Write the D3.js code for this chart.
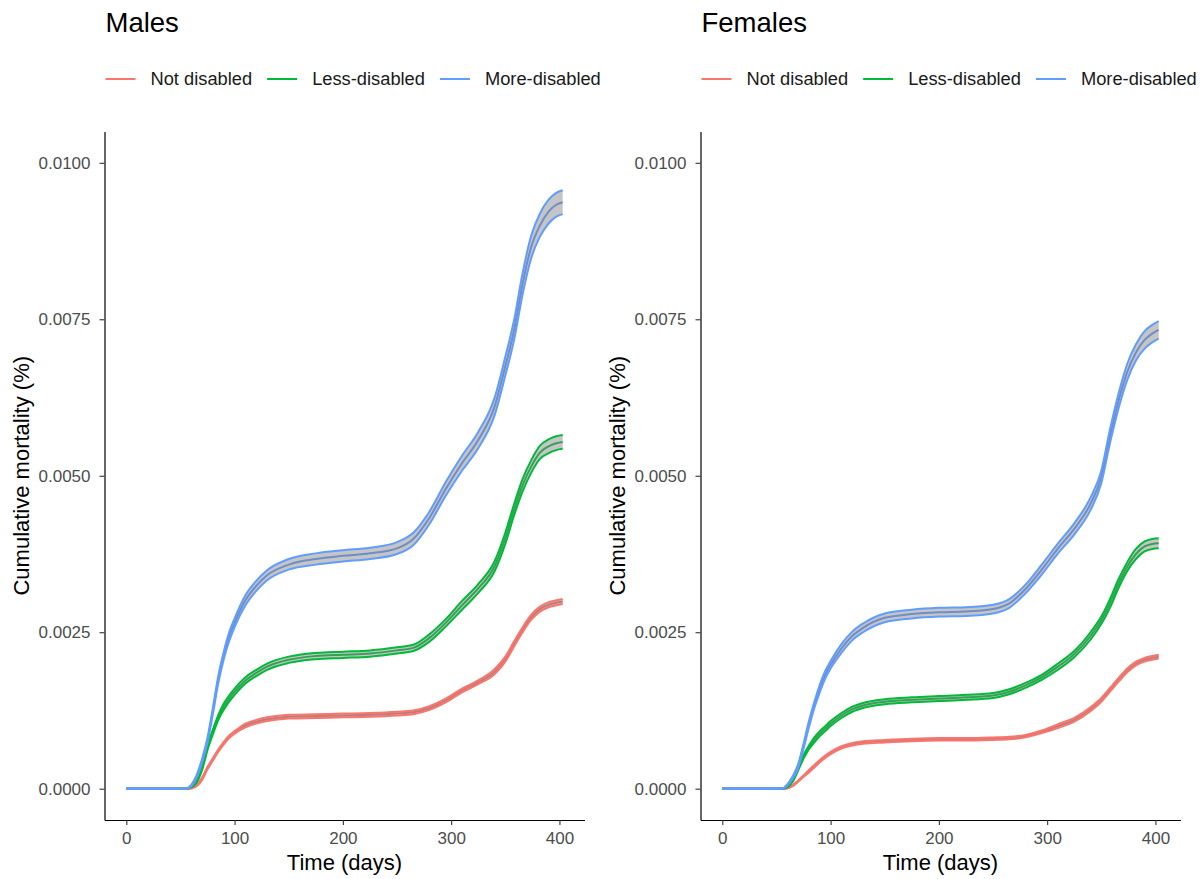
<!DOCTYPE html>
<html>
<head>
<meta charset="utf-8">
<script src="https://d3js.org/d3.v7.min.js"></script>
<style>
	body { margin: 0; background: #fff; }
	text { font-family: "Liberation Sans", Arial, Helvetica, sans-serif; }
</style>
</head>
<body>
<div id="chart"></div>
<script>

// categories and labels
var panelTitles = ["Males", "Females"];
var groups = ["Not disabled", "Less-disabled", "More-disabled"];
var xTicks = [0, 100, 200, 300, 400];
var yTicks = [0, 2.5, 5, 7.5, 10];   // in units of 0.001

// time points (days)
var days = [0, 55, 60, 65, 70, 75, 80, 85, 90, 95, 100, 110, 120, 130, 150, 175, 200, 225, 250, 265, 280, 295, 310, 325, 340, 350, 358, 366, 374, 382, 390, 397, 403];

// cumulative mortality, values x 0.001 (estimate, lower, upper)
var maleNotEst = [0,0,0.01,0.05,0.16,0.33,0.47,0.61,0.73,0.83,0.90,1.01,1.07,1.11,1.15,1.16,1.17,1.18,1.20,1.22,1.29,1.41,1.57,1.70,1.87,2.07,2.31,2.54,2.74,2.87,2.94,2.97,2.99];
var maleNotLo  = [0,0,0.005,0.04,0.14,0.31,0.45,0.59,0.71,0.81,0.88,0.98,1.04,1.08,1.12,1.13,1.14,1.15,1.17,1.19,1.26,1.38,1.54,1.67,1.83,2.03,2.27,2.50,2.70,2.83,2.90,2.93,2.95];
var maleNotHi  = [0,0,0.015,0.06,0.18,0.35,0.49,0.63,0.75,0.85,0.92,1.04,1.10,1.14,1.18,1.19,1.20,1.21,1.23,1.25,1.32,1.44,1.60,1.73,1.91,2.11,2.35,2.58,2.78,2.91,2.98,3.01,3.03];

var maleLessEst = [0,0,0.03,0.12,0.33,0.66,0.91,1.14,1.31,1.44,1.55,1.73,1.85,1.95,2.06,2.12,2.14,2.16,2.21,2.25,2.41,2.65,2.93,3.20,3.55,4.00,4.45,4.85,5.15,5.37,5.47,5.52,5.54];
var maleLessLo  = [0,0,0.02,0.10,0.30,0.62,0.87,1.10,1.26,1.39,1.50,1.68,1.80,1.90,2.01,2.07,2.09,2.11,2.16,2.20,2.35,2.59,2.86,3.13,3.47,3.91,4.36,4.75,5.05,5.27,5.36,5.41,5.43];
var maleLessHi  = [0,0,0.04,0.14,0.36,0.70,0.95,1.18,1.36,1.49,1.60,1.78,1.90,2.00,2.11,2.17,2.19,2.21,2.26,2.30,2.47,2.71,3.00,3.27,3.63,4.09,4.54,4.95,5.25,5.48,5.58,5.63,5.65];

var maleMoreEst = [0,0,0.05,0.20,0.45,0.78,1.25,1.75,2.13,2.43,2.65,3.01,3.24,3.41,3.58,3.67,3.72,3.76,3.84,3.99,4.33,4.79,5.20,5.57,6.10,6.75,7.32,8.07,8.66,9.00,9.22,9.33,9.37];
var maleMoreLo  = [0,0,0.04,0.18,0.42,0.74,1.20,1.69,2.07,2.36,2.58,2.93,3.16,3.33,3.50,3.58,3.63,3.67,3.75,3.89,4.23,4.68,5.08,5.44,5.96,6.60,7.16,7.90,8.48,8.82,9.03,9.14,9.18];
var maleMoreHi  = [0,0,0.06,0.22,0.48,0.82,1.30,1.81,2.19,2.50,2.72,3.09,3.32,3.49,3.67,3.76,3.81,3.85,3.94,4.09,4.43,4.90,5.32,5.70,6.24,6.90,7.48,8.24,8.84,9.19,9.41,9.52,9.56];

var femaleNotEst = [0,0,0.01,0.05,0.12,0.20,0.28,0.36,0.44,0.51,0.57,0.66,0.71,0.74,0.76,0.78,0.79,0.79,0.80,0.81,0.84,0.91,1.00,1.10,1.27,1.42,1.58,1.74,1.89,2.00,2.06,2.09,2.11];
var femaleNotLo  = [0,0,0.005,0.04,0.11,0.19,0.26,0.34,0.42,0.49,0.55,0.64,0.69,0.72,0.74,0.76,0.77,0.77,0.78,0.79,0.82,0.89,0.97,1.07,1.24,1.39,1.55,1.71,1.86,1.97,2.03,2.06,2.08];
var femaleNotHi  = [0,0,0.015,0.06,0.13,0.21,0.30,0.38,0.46,0.53,0.59,0.68,0.73,0.76,0.78,0.80,0.81,0.81,0.82,0.83,0.86,0.93,1.03,1.13,1.30,1.45,1.61,1.77,1.92,2.03,2.09,2.12,2.14];

var femaleLessEst = [0,0,0.03,0.13,0.32,0.51,0.66,0.78,0.88,0.96,1.04,1.17,1.27,1.33,1.39,1.42,1.44,1.46,1.49,1.55,1.65,1.78,1.95,2.15,2.44,2.69,2.96,3.28,3.55,3.75,3.87,3.91,3.92];
var femaleLessLo  = [0,0,0.02,0.11,0.29,0.48,0.63,0.74,0.84,0.92,1.00,1.13,1.23,1.29,1.35,1.38,1.40,1.42,1.45,1.51,1.61,1.74,1.90,2.10,2.38,2.63,2.89,3.21,3.48,3.67,3.79,3.83,3.84];
var femaleLessHi  = [0,0,0.04,0.15,0.35,0.54,0.69,0.82,0.92,1.00,1.08,1.21,1.31,1.37,1.43,1.46,1.48,1.50,1.53,1.59,1.69,1.82,2.00,2.20,2.50,2.75,3.03,3.35,3.62,3.83,3.95,3.99,4.00];

var femaleMoreEst = [0,0,0.06,0.18,0.36,0.68,1.03,1.34,1.60,1.82,1.98,2.24,2.44,2.57,2.73,2.79,2.82,2.83,2.87,2.96,3.19,3.50,3.84,4.15,4.55,4.98,5.63,6.20,6.66,6.97,7.17,7.27,7.33];
var femaleMoreLo  = [0,0,0.05,0.16,0.33,0.64,0.98,1.29,1.54,1.76,1.92,2.17,2.37,2.50,2.66,2.72,2.75,2.76,2.80,2.89,3.12,3.42,3.76,4.06,4.45,4.88,5.52,6.08,6.53,6.84,7.03,7.13,7.19];
var femaleMoreHi  = [0,0,0.07,0.20,0.39,0.72,1.08,1.39,1.66,1.88,2.04,2.31,2.51,2.64,2.80,2.86,2.89,2.90,2.94,3.03,3.26,3.58,3.92,4.24,4.65,5.08,5.74,6.32,6.79,7.10,7.31,7.41,7.47];


// set the specs
var width = 1201;
var height = 879;
var colors = ["#F8766D", "#00BA38", "#619CFF"];
var panelLeft = [104.5, 700.5];
var panelWidth = 480;
var plotTop = 131.5;
var plotBottom = 820;

var panels = [
	{ title: panelTitles[0], left: panelLeft[0],
	  series: [[maleNotEst, maleNotLo, maleNotHi], [maleLessEst, maleLessLo, maleLessHi], [maleMoreEst, maleMoreLo, maleMoreHi]] },
	{ title: panelTitles[1], left: panelLeft[1],
	  series: [[femaleNotEst, femaleNotLo, femaleNotHi], [femaleLessEst, femaleLessLo, femaleLessHi], [femaleMoreEst, femaleMoreLo, femaleMoreHi]] }
];

// create SVG element
var svg = d3.select("#chart")
	.append("svg")
	.attr("width", width)
	.attr("height", height);

// y scale shared by both panels (5% expansion around 0 - 0.01)
var yScale = d3.scaleLinear()
	.domain([-0.5, 10.5])
	.range([plotBottom, plotTop]);

panels.forEach(function(p){

	var xScale = d3.scaleLinear()
		.domain([-20.15, 423.15])
		.range([p.left, p.left + panelWidth]);

	var g = svg.append("g");

	// title
	g.append("text")
		.attr("x", p.left + 1)
		.attr("y", 32)
		.attr("font-size", 27.5)
		.attr("fill", "#000")
		.text(p.title);

	// legend
	var lx = p.left + 1;
	groups.forEach(function(name, i){
		g.append("line")
			.attr("x1", lx).attr("x2", lx + 30)
			.attr("y1", 79).attr("y2", 79)
			.attr("stroke", colors[i])
			.attr("stroke-width", 2);
		var t = g.append("text")
			.attr("x", lx + 45)
			.attr("y", 85)
			.attr("font-size", 18.3)
			.attr("fill", "#1a1a1a")
			.text(name);
		lx = lx + 45 + t.node().getComputedTextLength() + 15;
	});

	// series: estimate line, grey ribbon, coloured bounds
	p.series.forEach(function(s, i){
		var pts = days.map(function(d, j){
			return { day: d, est: s[0][j], lo: s[1][j], hi: s[2][j] };
		});

		var estLine = d3.line()
			.x(function(d){ return xScale(d.day); })
			.y(function(d){ return yScale(d.est); })
			.curve(d3.curveMonotoneX);
		var loLine = d3.line()
			.x(function(d){ return xScale(d.day); })
			.y(function(d){ return yScale(d.lo); })
			.curve(d3.curveMonotoneX);
		var hiLine = d3.line()
			.x(function(d){ return xScale(d.day); })
			.y(function(d){ return yScale(d.hi); })
			.curve(d3.curveMonotoneX);
		var band = d3.area()
			.x(function(d){ return xScale(d.day); })
			.y0(function(d){ return yScale(d.lo); })
			.y1(function(d){ return yScale(d.hi); })
			.curve(d3.curveMonotoneX);

		g.append("path")
			.datum(pts)
			.attr("d", estLine)
			.attr("fill", "none")
			.attr("stroke", colors[i])
			.attr("stroke-width", 2);

		g.append("path")
			.datum(pts)
			.attr("d", band)
			.attr("fill", "#7f7f7f")
			.attr("fill-opacity", 0.45);

		[loLine, hiLine].forEach(function(ln){
			g.append("path")
				.datum(pts)
				.attr("d", ln)
				.attr("fill", "none")
				.attr("stroke", colors[i])
				.attr("stroke-width", 2);
		});
	});

	// x axis
	var xAxis = d3.axisBottom(xScale)
		.tickValues(xTicks)
		.tickSize(5)
		.tickSizeOuter(0)
		.tickPadding(7);
	var gx = g.append("g")
		.attr("transform", "translate(0," + plotBottom + ")")
		.call(xAxis);

	// y axis
	var yAxis = d3.axisLeft(yScale)
		.tickValues(yTicks)
		.tickSize(5)
		.tickSizeOuter(0)
		.tickPadding(9)
		.tickFormat(function(d){ return (d / 1000).toFixed(4); });
	var gy = g.append("g")
		.attr("transform", "translate(" + p.left + ",0)")
		.call(yAxis);

	[gx, gy].forEach(function(ax){
		ax.select(".domain").attr("stroke", "#000").attr("stroke-width", 1.2);
		ax.selectAll(".tick line").attr("stroke", "#333").attr("stroke-width", 1.1);
		ax.selectAll(".tick text")
			.attr("font-size", 17)
			.attr("font-family", "'Liberation Sans', Arial, sans-serif")
			.attr("fill", "#4d4d4d");
	});

	// axis titles
	g.append("text")
		.attr("x", p.left + panelWidth / 2)
		.attr("y", 870)
		.attr("text-anchor", "middle")
		.attr("font-size", 22)
		.attr("fill", "#000")
		.text("Time (days)");

	g.append("text")
		.attr("transform", "translate(" + (p.left - 76) + "," + ((plotTop + plotBottom) / 2) + ") rotate(-90)")
		.attr("text-anchor", "middle")
		.attr("font-size", 22)
		.attr("fill", "#000")
		.text("Cumulative mortality (%)");
});

</script>
</body>
</html>
